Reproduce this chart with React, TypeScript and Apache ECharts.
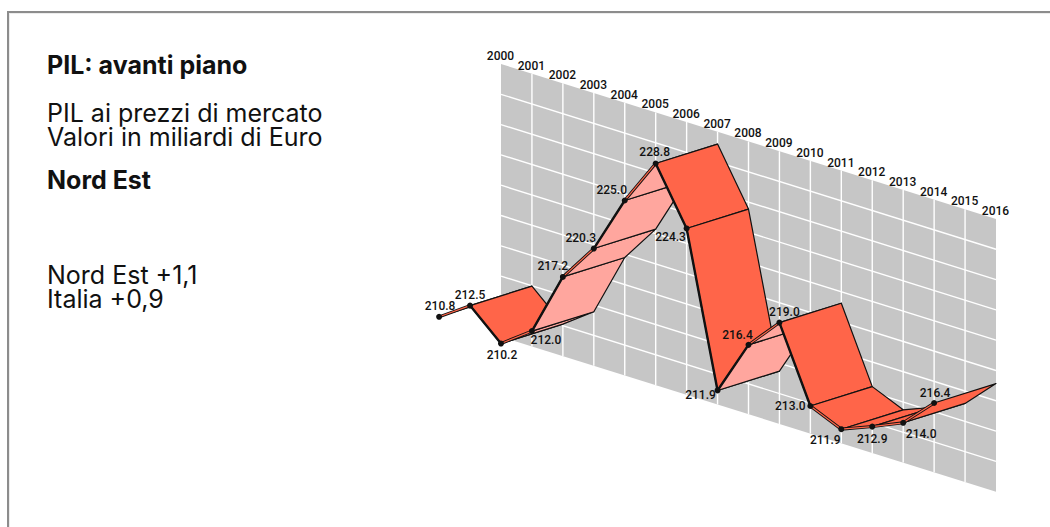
import React, { useEffect, useRef } from "react";
import * as echarts from "echarts";

// PIL ai prezzi di mercato, Nord Est, miliardi di Euro
const years = [2000, 2001, 2002, 2003, 2004, 2005, 2006, 2007, 2008, 2009, 2010, 2011, 2012, 2013, 2014, 2015, 2016];
const gdpValues = [210.8, 212.5, 210.2, 212.0, 217.2, 220.3, 225.0, 228.8, 224.3, 211.9, 216.4, 219.0, 213.0, 211.9, 212.9, 214.0, 216.4];
const wallMin = 207.6;
const wallMax = 229.8;
const wallDivisions = 9;

// Ribbon sections that start in these years are seen from their lit side
const paleStartYears = [2002, 2003, 2004, 2005, 2006, 2009, 2010];

// Where each value label sits relative to its point on the front edge
const labelShift: Record<number, [number, number]> = {
  2000: [1, -11], 2001: [0, -11], 2002: [1, 11], 2003: [14, 9], 2004: [-10, -11],
  2005: [-13, -11], 2006: [-13, -10], 2007: [-1, -11], 2008: [-16, 9], 2009: [-17, 5],
  2010: [-11, -10], 2011: [5, -11], 2012: [-20, 0], 2013: [-16, 11], 2014: [0, 12],
  2015: [18, 11], 2016: [1, -10],
};

const WALL_LEFT = 501;
const WALL_RIGHT = 996;
const WALL_TOP = 64;
const WALL_BOTTOM = 336.7;
const SHEAR = 0.3131;
const DEPTH_X = -61.9;
const DEPTH_Y = 19.4;
const FLAT_EDGE_PX = 37.5;

const RED = "#FF6549";
const PALE = "#FFA69E";
const WALL = "#C6C6C6";
const LABEL_FONT = '500 12px Roboto, sans-serif';
const BODY_FONT = '25px Inter, sans-serif';
const BOLD_FONT = 'bold 25px Inter, sans-serif';

// Slants a point of the flat cartesian grid onto the receding wall
const onWall = (p: number[]) => [p[0], p[1] + (p[0] - WALL_LEFT) * SHEAR];
// Moves a wall point out to the front edge of the ribbon
const toFront = (p: number[]) => [p[0] + DEPTH_X, p[1] + DEPTH_Y];

const bodyText = (text: string, y: number, font: string) => ({
  type: "text",
  left: 47,
  top: y,
  style: { text, font, fill: "#111", lineHeight: 24 },
});

export default function App() {
  const ref = useRef<HTMLDivElement>(null);

  useEffect(() => {
    document.body.style.margin = "0";
    const chart = echarts.init(ref.current!, undefined, { renderer: "svg" });
    const segments = years.slice(0, -1).map((y, i) => [y, gdpValues[i], years[i + 1], gdpValues[i + 1]]);
    const points = years.map((y, i) => [y, gdpValues[i]]);
    const levels = Array.from({ length: wallDivisions - 1 }, (_, i) => wallMax - ((i + 1) * (wallMax - wallMin)) / wallDivisions);

    chart.setOption({
      animation: false,
      grid: { left: WALL_LEFT, right: 1050 - WALL_RIGHT, top: WALL_TOP, bottom: 527 - WALL_BOTTOM },
      xAxis: { type: "value", min: 2000, max: 2016, show: false },
      yAxis: { type: "value", min: wallMin, max: wallMax, show: false },
      tooltip: { show: false },
      graphic: [
        { type: "rect", shape: { x: 7, y: 11, width: 1043, height: 2 }, style: { fill: "#8c8c8c" } },
        { type: "rect", shape: { x: 7, y: 11, width: 2, height: 516 }, style: { fill: "#8c8c8c" } },
        { type: "rect", shape: { x: 9, y: 13, width: 1041, height: 1 }, style: { fill: "#ececec" } },
        { type: "rect", shape: { x: 9, y: 13, width: 1, height: 514 }, style: { fill: "#ececec" } },
        bodyText("PIL: avanti piano", 52, BOLD_FONT),
        bodyText("PIL ai prezzi di mercato", 100, BODY_FONT),
        bodyText("Valori in miliardi di Euro", 124, BODY_FONT),
        bodyText("Nord Est", 167, BOLD_FONT),
        bodyText("Nord Est +1,1", 262, BODY_FONT),
        bodyText("Italia +0,9", 286, BODY_FONT),
      ],
      series: [
        {
          // Wall background
          type: "custom",
          z: 1,
          data: [[2000, wallMin, 2016, wallMax]],
          renderItem: (_: any, api: any) => {
            const [x0, y0, x1, y1] = [0, 1, 2, 3].map((d) => api.value(d));
            const corners = [[x0, y1], [x1, y1], [x1, y0], [x0, y0]].map((c) => onWall(api.coord(c)));
            return { type: "polygon", shape: { points: corners }, style: { fill: WALL } };
          },
        },
        {
          // Horizontal rules of the wall
          type: "custom",
          z: 2,
          data: levels.map((v) => [v]),
          renderItem: (_: any, api: any) => {
            const a = onWall(api.coord([2000, api.value(0)]));
            const b = onWall(api.coord([2016, api.value(0)]));
            return {
              type: "line",
              shape: { x1: a[0], y1: a[1], x2: b[0], y2: b[1] },
              style: { stroke: "#fff", lineWidth: 1.4 },
            };
          },
        },
        {
          // Year rules and the year labels along the top edge
          type: "custom",
          z: 2,
          data: years.map((y) => [y]),
          renderItem: (_: any, api: any) => {
            const yr = api.value(0);
            const a = onWall(api.coord([yr, wallMax]));
            const b = onWall(api.coord([yr, wallMin]));
            const children: any[] = [
              {
                type: "text",
                style: {
                  text: String(yr),
                  x: a[0] - 0.5,
                  y: a[1] - 8,
                  align: "center",
                  verticalAlign: "middle",
                  font: LABEL_FONT,
                  fill: "#111",
                },
              },
            ];
            if (yr !== years[0] && yr !== years[years.length - 1]) {
              children.push({
                type: "line",
                shape: { x1: a[0], y1: a[1], x2: b[0], y2: b[1] },
                style: { stroke: "#fff", lineWidth: 1.4 },
              });
            }
            return { type: "group", children };
          },
        },
        {
          // Ribbon, painted section by section from the first year onward
          type: "custom",
          z: 3,
          data: segments,
          renderItem: (_: any, api: any) => {
            const yr = api.value(0);
            const b0 = onWall(api.coord([yr, api.value(1)]));
            const b1 = onWall(api.coord([api.value(2), api.value(3)]));
            const f0 = toFront(b0);
            const f1 = toFront(b1);
            const edge = { x1: f0[0], y1: f0[1], x2: f1[0], y2: f1[1] };
            const flat = Math.abs(f1[1] - f0[1]) < FLAT_EDGE_PX;
            const children: any[] = [
              {
                type: "polygon",
                shape: { points: [f0, f1, b1, b0] },
                style: {
                  fill: paleStartYears.includes(yr) ? PALE : RED,
                  stroke: "#111",
                  lineWidth: 1.2,
                  lineJoin: "round",
                },
              },
              { type: "line", shape: edge, style: { stroke: "#111", lineWidth: flat ? 3 : 2.4, lineCap: "round" } },
            ];
            if (flat) {
              children.push({ type: "line", shape: edge, style: { stroke: RED, lineWidth: 1.2 } });
            }
            return { type: "group", children };
          },
        },
        {
          // Points on the front edge with their values
          type: "custom",
          z: 4,
          data: points,
          renderItem: (_: any, api: any) => {
            const yr = api.value(0);
            const v = api.value(1);
            const f = toFront(onWall(api.coord([yr, v])));
            const shift = labelShift[yr];
            return {
              type: "group",
              children: [
                { type: "circle", shape: { cx: f[0], cy: f[1], r: 3 }, style: { fill: "#111" } },
                {
                  type: "text",
                  style: {
                    text: v.toFixed(1),
                    x: f[0] + shift[0],
                    y: f[1] + shift[1],
                    align: "center",
                    verticalAlign: "middle",
                    font: LABEL_FONT,
                    fill: "#111",
                  },
                },
              ],
            };
          },
        },
      ],
    });
    return () => chart.dispose();
  }, []);

  return <div ref={ref} style={{ width: 1050, height: 527, background: "#fff" }} />;
}
